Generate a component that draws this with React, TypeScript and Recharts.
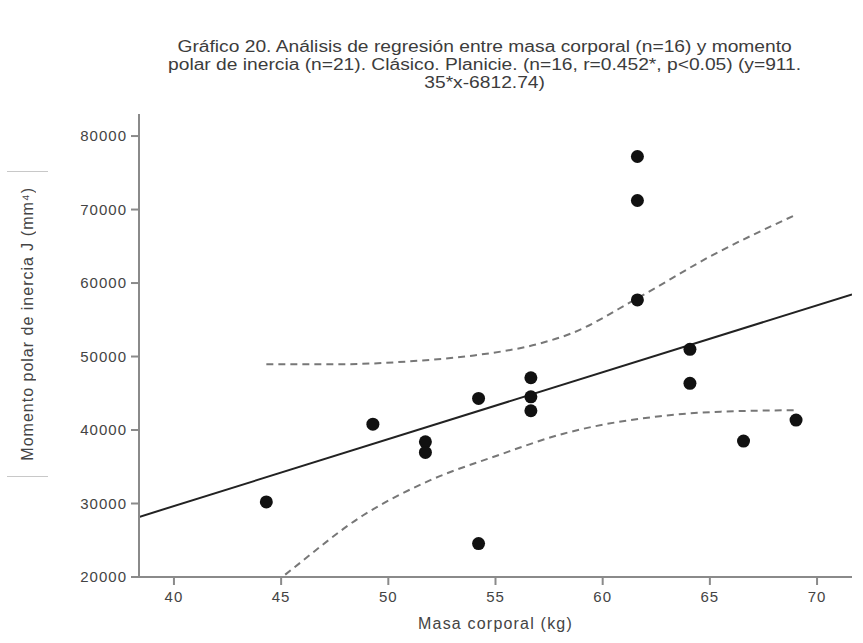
import React from 'react';
import { ComposedChart, Scatter, Line, XAxis, YAxis, Label } from 'recharts';

// Masa corporal (kg) y momento polar de inercia J (mm4), n=16
const masa = [44.31, 49.28, 51.73, 51.73, 54.21, 54.21, 56.65, 56.65, 56.65, 61.62, 61.62, 61.62, 64.07, 64.07, 66.57, 69.02];
const momento = [30220, 40800, 38390, 36950, 44300, 24550, 47110, 44520, 42620, 77220, 71230, 57700, 50980, 46350, 38490, 41350];

// recta de regresión (extremos)
const ajusteX = [38.37, 71.63];
const ajusteY = [28170, 58450];

// intervalo de confianza de la media (líneas discontinuas)
const icSupX = [44.31, 47.7, 51.5, 54.0, 57.1, 58.5, 61.6, 65.0, 69.02];
const icSupY = [48940, 48950, 49450, 50150, 51800, 53100, 57900, 63600, 69300];
const icInfX = [44.31, 45.25, 48.83, 51.96, 55.06, 58.17, 62.67, 65.5, 69.02];
const icInfY = [18300, 20460, 28400, 33170, 36500, 39500, 41880, 42500, 42700];

const xTicks = [40, 45, 50, 55, 60, 65, 70];
const yTicks = [20000, 30000, 40000, 50000, 60000, 70000, 80000];

const tituloLineas = [
  'Gráfico 20. Análisis de regresión entre masa corporal (n=16) y momento',
  'polar de inercia (n=21). Clásico. Planicie. (n=16, r=0.452*, p<0.05) (y=911.',
  '35*x-6812.74)',
];

const puntos = masa.map((x, i) => ({ x, y: momento[i] }));
const ajuste = ajusteX.map((x, i) => ({ x, y: ajusteY[i] }));
const icSup = icSupX.map((x, i) => ({ x, y: icSupY[i] }));
const icInf = icInfX.map((x, i) => ({ x, y: icInfY[i] }));

const FONT = '"Liberation Sans", Arial, sans-serif';
const AXIS = '#8a8a8a';
const tickStyle = { fill: '#444', fontSize: 15, fontFamily: FONT, letterSpacing: 1 };

const Punto = (props: any) => <circle cx={props.cx} cy={props.cy} r={6.5} fill="#111" />;

export default function App() {
  return (
    <div style={{ position: 'absolute', left: 0, top: 0, width: 863, height: 643, background: '#fff', fontFamily: FONT }}>
      <div
        style={{
          position: 'absolute', left: 128, top: 38, width: 713, textAlign: 'center',
          fontSize: 16, lineHeight: '18px', color: '#3c3c3c',
          transform: 'scaleX(1.2)', transformOrigin: '356px 0',
        }}
      >
        {tituloLineas.map((t) => (
          <div key={t}>{t}</div>
        ))}
      </div>

      <div
        style={{
          position: 'absolute', left: 7, top: 171, width: 41, height: 304,
          borderTop: '1px solid #c8c8c8', borderBottom: '1px solid #c8c8c8',
          display: 'flex', alignItems: 'center', justifyContent: 'center',
        }}
      >
        <div style={{ writingMode: 'vertical-rl', transform: 'rotate(180deg)', fontSize: 16, color: '#444', letterSpacing: 1 }}>
          Momento polar de inercia  J (mm⁴)
        </div>
      </div>

      <ComposedChart width={863} height={643} margin={{ top: 114, right: 11, bottom: 0, left: 0 }}>
        <XAxis
          type="number"
          dataKey="x"
          domain={[38.37, 71.63]}
          ticks={xTicks}
          allowDataOverflow
          height={66}
          stroke={AXIS}
          strokeWidth={2}
          tickSize={8}
          tickMargin={6}
          tick={tickStyle}
        >
          <Label value="Masa corporal (kg)" position="insideBottom" offset={14} style={{ fill: '#444', fontSize: 16, fontFamily: FONT, letterSpacing: 1.2 }} />
        </XAxis>
        <YAxis
          type="number"
          dataKey="y"
          domain={[20000, 83000]}
          ticks={yTicks}
          allowDataOverflow
          width={139}
          stroke={AXIS}
          strokeWidth={2}
          tickSize={8}
          tickMargin={4}
          tick={tickStyle}
        />
        <Line data={ajuste} dataKey="y" type="linear" stroke="#222" strokeWidth={2} dot={false} isAnimationActive={false} />
        <Line data={icSup} dataKey="y" type="monotone" stroke="#777" strokeWidth={2} strokeDasharray="7 5" dot={false} isAnimationActive={false} />
        <Line data={icInf} dataKey="y" type="monotone" stroke="#777" strokeWidth={2} strokeDasharray="7 5" dot={false} isAnimationActive={false} />
        <Scatter data={puntos} shape={<Punto />} isAnimationActive={false} />
      </ComposedChart>
    </div>
  );
}
